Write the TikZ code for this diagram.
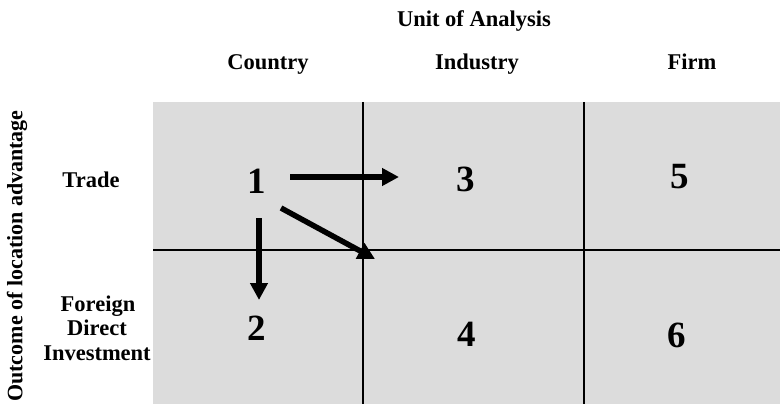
\documentclass[tikz,border=0pt]{standalone}
\usepackage{fontspec}
\setmainfont{Liberation Serif}
\usetikzlibrary{arrows.meta}
\definecolor{cellgrey}{RGB}{220,220,220}
\begin{document}
\begin{tikzpicture}[x=1pt,y=-1pt,
  lbl/.style={font=\fontsize{22.5}{26}\selectfont\bfseries, anchor=base, inner sep=0pt},
  num/.style={font=\fontsize{37}{40}\selectfont\bfseries, anchor=base, inner sep=0pt},
  gridline/.style={line width=1.6pt, black},
  bigarrow/.style={line width=5.5pt, -{Triangle[length=17pt,width=17pt]}}]
\useasboundingbox (0,0) rectangle (780,404);
\fill[cellgrey] (153,102) rectangle (780,404);
\draw[gridline] (363,102) -- (363,404);
\draw[gridline] (584,102) -- (584,404);
\draw[gridline] (153,250) -- (780,250);
% headers
\node[lbl] (unit) at (474,27) {Unit of Analysis};
\node[lbl] (country) at (268,70) {Country};
\node[lbl] (industry) at (477,70) {Industry};
\node[lbl] (firm) at (692,70) {Firm};
\node[lbl, font=\fontsize{22}{26}\selectfont\bfseries, rotate=90, anchor=center] (outcome) at (17,256) {Outcome of location advantage};
\node[lbl] (trade) at (91,187) {Trade};
\node[lbl] (foreign) at (98,311) {Foreign};
\node[lbl] (direct) at (97,335) {Direct};
\node[lbl] (invest) at (97,360) {Investment};
% numbers
\node[num] (n1) at (257,193) {1};
\node[num] (n3) at (466,191) {3};
\node[num] (n5) at (680,188) {5};
\node[num] (n2) at (257,340) {2};
\node[num] (n4) at (467,346) {4};
\node[num] (n6) at (677,347) {6};
% arrows
\coordinate (a1s) at (290,177);
\coordinate (a1e) at (399,177);
\coordinate (a2s) at (281,208);
\coordinate (a2e) at (375,259);
\coordinate (a3s) at (259,218);
\coordinate (a3e) at (259,300);
\draw[bigarrow] (a1s) -- (a1e);
\draw[bigarrow] (a2s) -- (a2e);
\draw[bigarrow] (a3s) -- (a3e);
\end{tikzpicture}
\end{document}
